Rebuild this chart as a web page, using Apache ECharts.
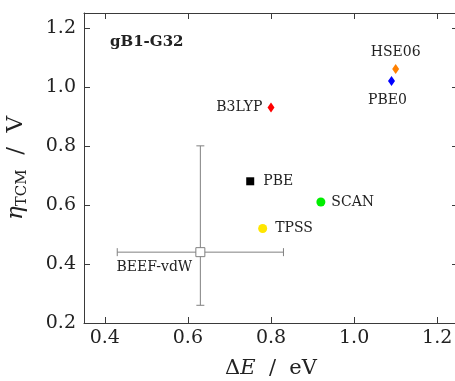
<!DOCTYPE html>
<html><head><meta charset="utf-8">
<script src="https://cdn.jsdelivr.net/npm/echarts@6/dist/echarts.min.js"></script>
<style>html,body{margin:0;padding:0;background:#fff}#c{width:455px;height:381px}</style>
</head><body><div id="c"></div>
<script>
// Functional: reaction energy vs. limiting potential
const methods = ['B3LYP', 'HSE06', 'PBE0', 'PBE', 'SCAN', 'TPSS', 'BEEF-vdW'];
const deltaE  = [0.80, 1.10, 1.09, 0.75, 0.92, 0.78, 0.63];
const eta     = [0.93, 1.06, 1.02, 0.68, 0.61, 0.52, 0.44];
// BEEF-vdW ensemble spread
const beefXRange = [0.43, 0.83];
const beefYRange = [0.26, 0.80];
const xTicks = [0.4, 0.6, 0.8, 1.0, 1.2];
const yTicks = [0.2, 0.4, 0.6, 0.8, 1.0, 1.2];
const panelTitle = 'gB1-G32';

const FONT = 'DejaVu Serif';
const FRAME = '#3a3a3a';

const look = {
  'B3LYP':    { symbol: 'diamond', size: [7, 10], color: '#ff0000', pos: 'left',   dist: 5 },
  'HSE06':    { symbol: 'diamond', size: [7, 10], color: '#ff8000', pos: 'top',    dist: 5 },
  'PBE0':     { symbol: 'diamond', size: [7, 10], color: '#0000ff', pos: 'bottom', dist: 7, offset: [-4, 0] },
  'PBE':      { symbol: 'rect',    size: 8,       color: '#000000', pos: 'right',  dist: 9 },
  'SCAN':     { symbol: 'circle',  size: 9,       color: '#00ee00', pos: 'right',  dist: 6 },
  'TPSS':     { symbol: 'circle',  size: 9,       color: '#ffe600', pos: 'right',  dist: 8 },
  'BEEF-vdW': { symbol: 'rect',    size: 9,       color: '#ffffff', border: '#808080', pos: 'inside', dist: 0, offset: [-46, 15] }
};

const chart = echarts.init(document.getElementById('c'), null, { renderer: 'canvas' });

const tickFmt = v => Number(v).toFixed(1);

function xAx(pos, show) {
  return {
    type: 'value', position: pos, min: 0.35, max: 1.25,
    axisLine: { show: true, onZero: false, lineStyle: { color: FRAME, width: 1 } },
    axisTick: { show: true, inside: true, length: 6, customValues: xTicks, lineStyle: { color: FRAME } },
    axisLabel: { show: show, customValues: xTicks, formatter: tickFmt, fontFamily: FONT, fontSize: 19, color: '#222', margin: 6 },
    splitLine: { show: false }
  };
}
function yAx(pos, show) {
  return {
    type: 'value', position: pos, min: 0.2, max: 1.25,
    axisLine: { show: true, onZero: false, lineStyle: { color: FRAME, width: 1 } },
    axisTick: { show: true, inside: true, length: 6, customValues: yTicks, lineStyle: { color: FRAME } },
    axisLabel: { show: show, customValues: yTicks, formatter: tickFmt, fontFamily: FONT, fontSize: 19, color: '#222', margin: 8 },
    splitLine: { show: false }
  };
}

const xBottom = xAx('bottom', true);
xBottom.name = '{d|Δ}{e|E}{t|  /  eV}';
xBottom.nameLocation = 'middle';
xBottom.nameGap = 35;
xBottom.nameTextStyle = {
  rich: {
    d: { fontFamily: FONT, fontSize: 21, color: '#222' },
    e: { fontFamily: FONT, fontSize: 21, fontStyle: 'italic', color: '#222' },
    t: { fontFamily: FONT, fontSize: 21, color: '#222' }
  }
};
const yLeft = yAx('left', true);
yLeft.name = '{h|η}{s|TCM}{t|  /  V}';
yLeft.nameLocation = 'middle';
yLeft.nameGap = 52;
yLeft.nameRotate = 90;
yLeft.nameTextStyle = {
  rich: {
    h: { fontFamily: FONT, fontSize: 23, fontStyle: 'italic', color: '#222', lineHeight: 32 },
    s: { fontFamily: FONT, fontSize: 15, color: '#222', lineHeight: 32, padding: [13, 0, 0, 0] },
    t: { fontFamily: FONT, fontSize: 23, color: '#222', lineHeight: 32 }
  }
};

const scatterSeries = methods.map((m, i) => {
  const s = look[m];
  return {
    type: 'scatter', name: m, z: 5,
    symbol: s.symbol, symbolSize: s.size,
    itemStyle: { color: s.color, borderColor: s.border || s.color, borderWidth: s.border ? 1 : 0, opacity: 1 },
    label: {
      show: true, formatter: m, position: s.pos, distance: s.dist, offset: s.offset || [0, 0],
      fontFamily: FONT, fontSize: 14, color: '#222'
    },
    data: [[deltaE[i], eta[i]]]
  };
});

const bi = methods.indexOf('BEEF-vdW');
const errorSeries = {
  type: 'custom', z: 3, silent: true,
  data: [[deltaE[bi], eta[bi], beefXRange[0], beefXRange[1], beefYRange[0], beefYRange[1]]],
  renderItem: function (params, api) {
    const x = api.value(0), y = api.value(1);
    const l = api.coord([api.value(2), y]), r = api.coord([api.value(3), y]);
    const b = api.coord([x, api.value(4)]), t = api.coord([x, api.value(5)]);
    const cap = 4;
    const st = { stroke: '#808080', lineWidth: 1 };
    const ln = (x1, y1, x2, y2) => ({ type: 'line', shape: { x1, y1, x2, y2 }, style: st });
    return {
      type: 'group',
      children: [
        ln(l[0], l[1], r[0], r[1]),
        ln(l[0], l[1] - cap, l[0], l[1] + cap),
        ln(r[0], r[1] - cap, r[0], r[1] + cap),
        ln(b[0], b[1], t[0], t[1]),
        ln(b[0] - cap, b[1], b[0] + cap, b[1]),
        ln(t[0] - cap, t[1], t[0] + cap, t[1])
      ]
    };
  }
};

chart.setOption({
  backgroundColor: '#fff',
  animation: false,
  grid: { left: 84, top: 13, right: -3, bottom: 58, outerBoundsMode: 'none', containLabel: false },
  title: {
    text: panelTitle, left: 110, top: 35, padding: 0,
    textStyle: { fontFamily: FONT, fontWeight: 'bold', fontSize: 15, color: '#222' }
  },
  xAxis: [xBottom, xAx('top', false)],
  yAxis: [yLeft, yAx('right', false)],
  series: [errorSeries].concat(scatterSeries)
});
</script>
</body></html>
